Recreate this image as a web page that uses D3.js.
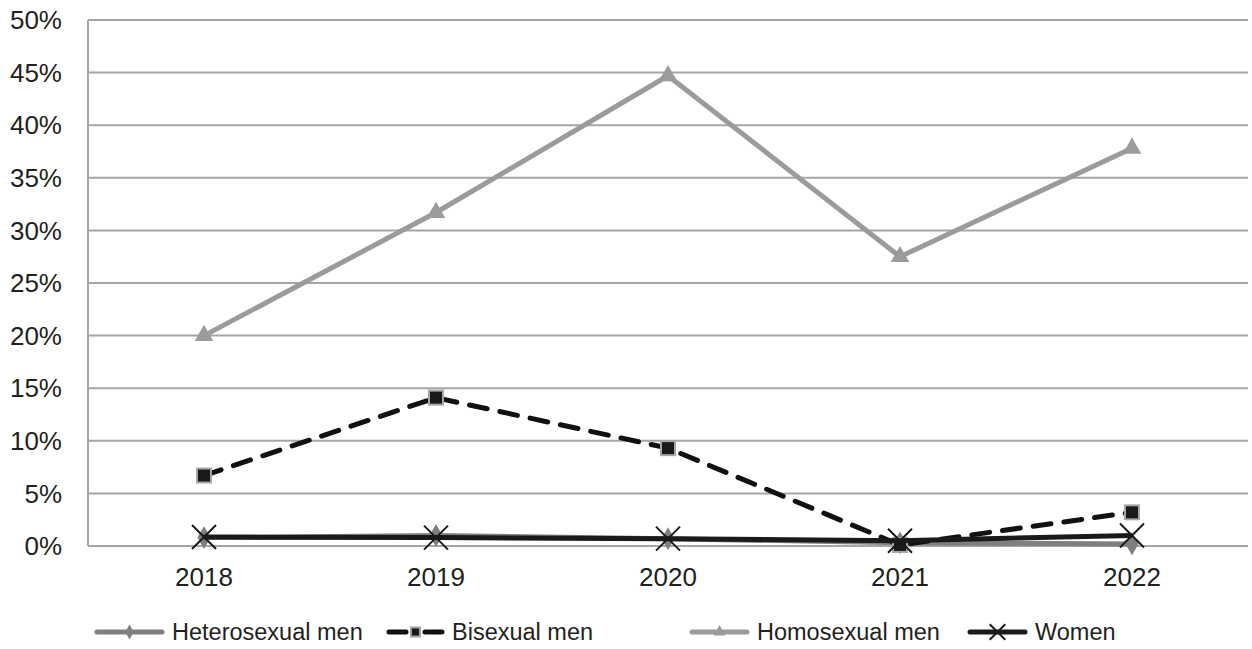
<!DOCTYPE html>
<html><head><meta charset="utf-8">
<script src="https://cdn.jsdelivr.net/npm/d3@7"></script>
<style>body{margin:0;background:#fff}svg{display:block;font-family:"Liberation Sans",Arial,sans-serif}</style>
</head><body><svg id="c" width="1252" height="649"></svg>
<script>
const years = ["2018","2019","2020","2021","2022"];
const heterosexualMen = [0.8, 1.0, 0.7, 0.3, 0.2];
const bisexualMen = [6.7, 14.1, 9.3, 0.1, 3.2];
const homosexualMen = [20.0, 31.7, 44.7, 27.5, 37.8];
const women = [0.85, 0.8, 0.7, 0.5, 1.0];
const yTicks = [0,5,10,15,20,25,30,35,40,45,50];

const svg = d3.select("#c");
const L = 88, R = 1248, T = 20, B = 546;
const FS = 26, LFS = 23.5, TXT = "#231f20";
const x = d3.scaleBand().domain(years).range([L, R]);
const y = d3.scaleLinear().domain([0, 50]).range([B, T]);

// grid
svg.append("g").selectAll("line").data(yTicks).join("line")
  .attr("x1", L).attr("x2", R).attr("y1", d => y(d)).attr("y2", d => y(d))
  .attr("stroke", "#a6a6a6").attr("stroke-width", 2);
svg.append("line").attr("x1", L).attr("x2", L).attr("y1", T).attr("y2", B)
  .attr("stroke", "#a6a6a6").attr("stroke-width", 2);

// y labels
svg.append("g").selectAll("text").data(yTicks).join("text")
  .attr("x", 62).attr("y", d => y(d)).attr("dy", "0.35em").attr("text-anchor", "end")
  .attr("font-size", FS).attr("fill", TXT).text(d => d + "%");
// x labels
svg.append("g").selectAll("text").data(years).join("text")
  .attr("x", d => x(d) + x.bandwidth()/2).attr("y", 577).attr("dy", "0.35em").attr("text-anchor", "middle")
  .attr("font-size", FS).attr("fill", TXT).text(d => d);

const cx = d => x(d) + x.bandwidth()/2;
const series = [
  {name:"Heterosexual men", vals: heterosexualMen, color:"#7f7f7f", dash:null, ldash:null, marker:"diamond"},
  {name:"Bisexual men", vals: bisexualMen, color:"#111", dash:"18,13", ldash:"17,19,17", marker:"square"},
  {name:"Homosexual men", vals: homosexualMen, color:"#9b9b9b", dash:null, ldash:null, marker:"triangle"},
  {name:"Women", vals: women, color:"#1a1a1a", dash:null, ldash:null, marker:"x"}
];

function drawMarker(g, kind, px, py, s) {
  s = s || 1;
  if (kind === "diamond") {
    g.append("path").attr("d", d3.symbol(d3.symbolDiamond, 150*s*s)()).attr("transform", `translate(${px},${py})`).attr("fill", "#7f7f7f");
  } else if (kind === "square") {
    g.append("rect").attr("x", px-7*s).attr("y", py-7*s).attr("width", 14*s).attr("height", 14*s)
      .attr("fill", "#1a1a1a").attr("stroke", "#a6a6a6").attr("stroke-width", 2);
  } else if (kind === "triangle") {
    g.append("path").attr("d", d3.symbol(d3.symbolTriangle, 150*s*s)()).attr("transform", `translate(${px},${py})`).attr("fill", "#9b9b9b");
  } else if (kind === "x") {
    const r = 12*s;
    g.append("path").attr("d", `M${px-r},${py-r}L${px+r},${py+r}M${px-r},${py+r}L${px+r},${py-r}`)
      .attr("stroke", "#1a1a1a").attr("stroke-width", 2).attr("fill", "none");
  }
}

const line = d3.line().x((d,i) => cx(years[i])).y(d => y(d));
series.forEach(s => {
  const g = svg.append("g");
  g.append("path").attr("d", line(s.vals)).attr("fill", "none").attr("stroke", s.color)
    .attr("stroke-width", 5).attr("stroke-linecap", s.dash ? "round" : "butt").attr("stroke-linejoin", "round")
    .attr("stroke-dasharray", s.dash);
  s.vals.forEach((v,i) => drawMarker(g, s.marker, cx(years[i]), y(v)));
});

// legend
const legendX = [97, 389, 692, 970];
const legendTextX = [172, 452, 757, 1035];
const ly = 632;
series.forEach((s,i) => {
  const g = svg.append("g");
  const x0 = legendX[i], x1 = legendTextX[i] - 10;
  g.append("line").attr("x1", x0).attr("x2", x1).attr("y1", ly).attr("y2", ly)
    .attr("stroke", s.color).attr("stroke-width", 5).attr("stroke-linecap", "round")
    .attr("stroke-dasharray", s.ldash);
  drawMarker(g, s.marker, (x0+x1)/2, ly, 0.65);
  g.append("text").attr("x", legendTextX[i]).attr("y", ly).attr("dy", "0.35em")
    .attr("font-size", LFS).attr("fill", TXT).text(s.name);
});
</script></body></html>
